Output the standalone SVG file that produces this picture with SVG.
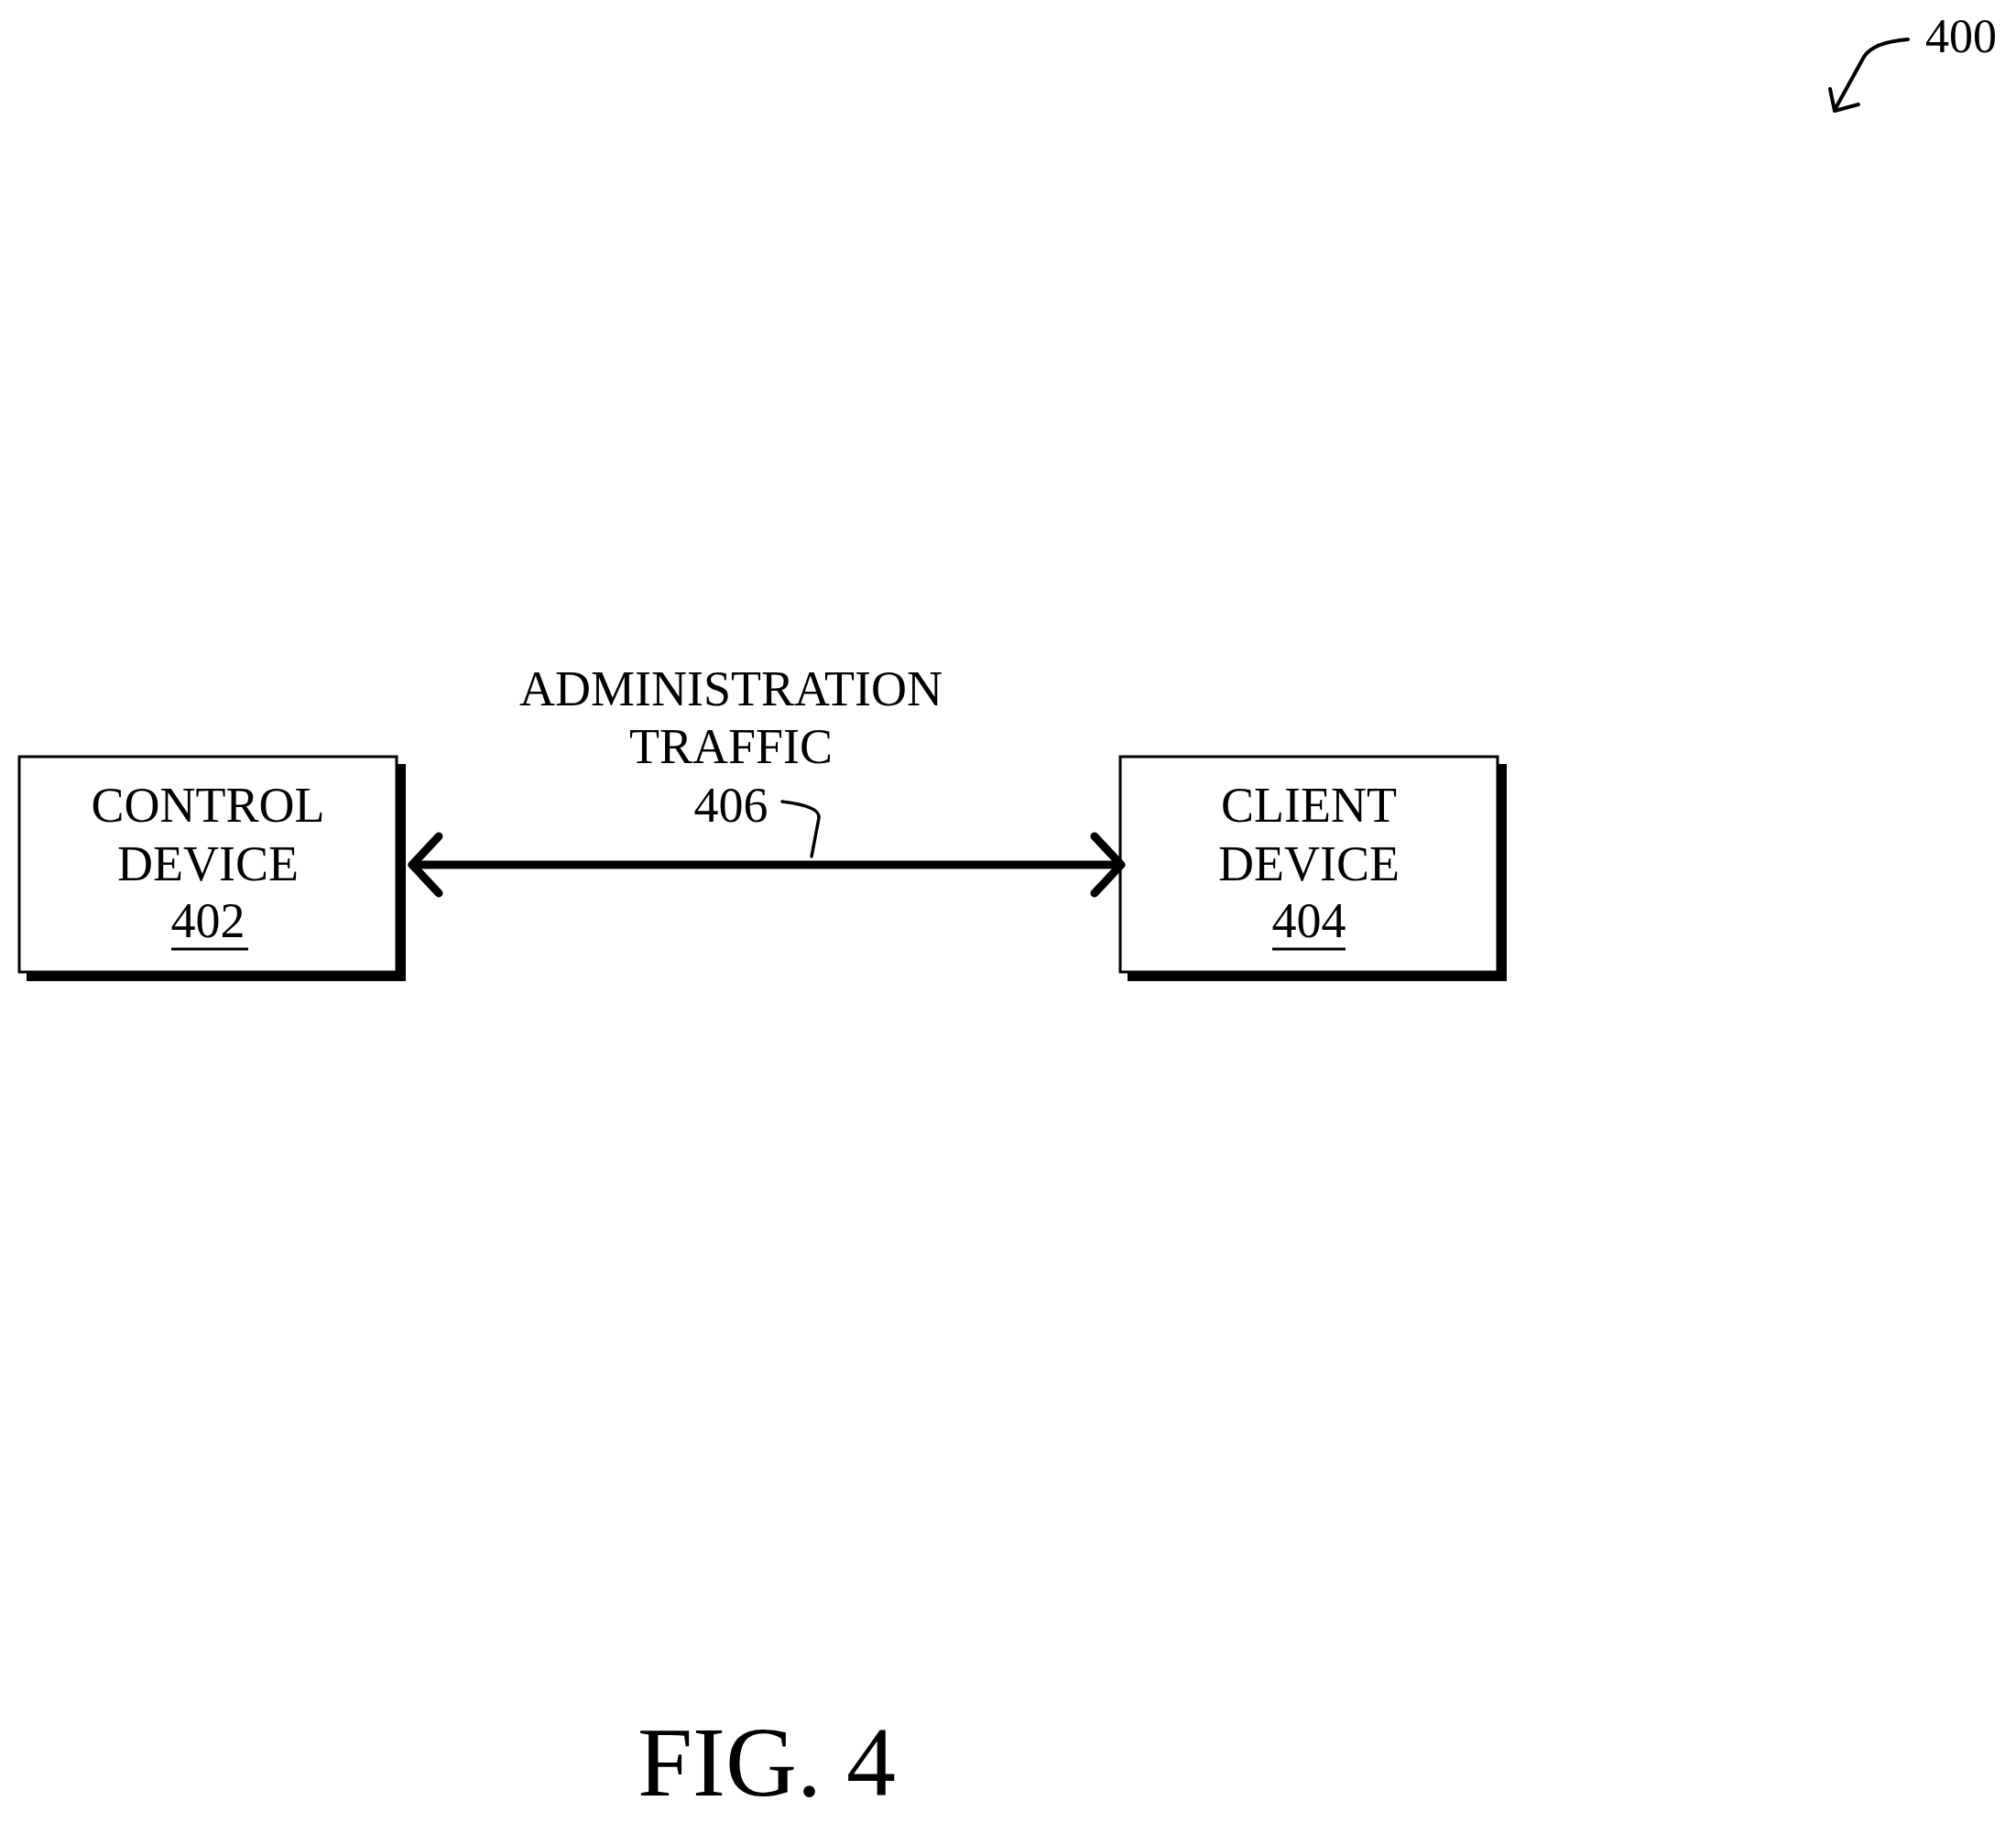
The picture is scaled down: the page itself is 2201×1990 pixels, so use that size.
<svg xmlns="http://www.w3.org/2000/svg" width="2201" height="1990" viewBox="0 0 2201 1990">
<style>
text{font-family:"Liberation Serif","Times New Roman",serif;fill:#000;text-anchor:middle}
.t{font-size:54px}
.box{fill:#fff;stroke:#000;stroke-width:3}
.sh{fill:#000}
.ln{fill:none;stroke:#000;stroke-linecap:round;stroke-linejoin:round}
</style>
<rect width="2201" height="1990" fill="#fff"/>
<g id="control">
<rect class="sh" x="29" y="834" width="414" height="237"/>
<rect class="box" x="21" y="826" width="412" height="235"/>
<text class="t" x="227" y="897">CONTROL</text>
<text class="t" x="227" y="961">DEVICE</text>
<text class="t" x="227" y="1023">402</text>
<line x1="187" y1="1036" x2="271" y2="1036" stroke="#000" stroke-width="3"/>
</g>
<g id="client">
<rect class="sh" x="1231" y="834" width="414" height="237"/>
<rect class="box" x="1223" y="826" width="412" height="235"/>
<text class="t" x="1429" y="897">CLIENT</text>
<text class="t" x="1429" y="961">DEVICE</text>
<text class="t" x="1429" y="1023">404</text>
<line x1="1389" y1="1036" x2="1469" y2="1036" stroke="#000" stroke-width="3"/>
</g>
<g id="connectors">
<line class="ln" x1="452" y1="944" x2="1223" y2="944" stroke-width="9"/>
<polyline class="ln" points="479,913 450,944 479,975" stroke-width="9"/>
<polyline class="ln" points="1195,913 1224,944 1195,975" stroke-width="9"/>
<path class="ln" d="M854,875 Q896,880 894,893 L886,935" stroke-width="3.5"/>
<path class="ln" d="M2083,43 Q2045,46 2035,62 L2003,120" stroke-width="4"/>
<polyline class="ln" points="1998,97 2003,121 2029,114" stroke-width="4"/>
</g>
<g id="label406">
<text class="t" x="798" y="770">ADMINISTRATION</text>
<text class="t" x="798" y="833">TRAFFIC</text>
<text class="t" x="798" y="897">406</text>
</g>
<text x="2141" y="57" style="font-size:52px">400</text>
<text x="837" y="1960" style="font-size:108px">FIG. 4</text>
</svg>
